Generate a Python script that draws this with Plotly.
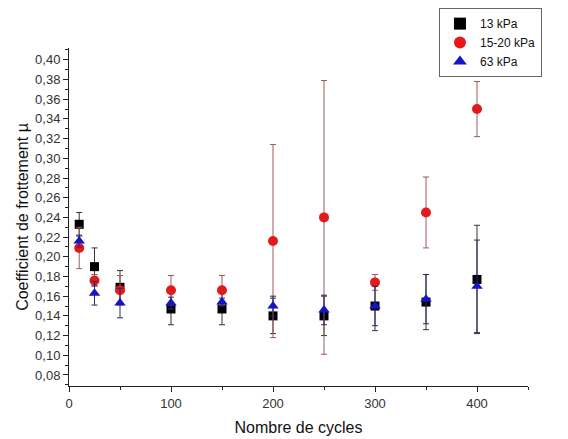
import plotly.graph_objects as go

cycles = [10, 25, 50, 100, 150, 200, 250, 300, 350, 400]

mu_13 = [0.233, 0.190, 0.169, 0.147, 0.147, 0.140, 0.140, 0.150, 0.154, 0.177]
err_13 = [0.012, 0.019, 0.017, 0.016, 0.016, 0.018, 0.020, 0.025, 0.028, 0.055]

mu_1520 = [0.209, 0.176, 0.166, 0.166, 0.166, 0.216, 0.240, 0.174, 0.245, 0.350]
err_1520 = [0.021, 0.006, 0.015, 0.015, 0.015, 0.098, 0.139, 0.008, 0.036, 0.028]

mu_63 = [0.216, 0.163, 0.153, 0.153, 0.154, 0.150, 0.146, 0.150, 0.157, 0.170]
err_63 = [0.006, 0.012, 0.015, 0.006, 0.004, 0.010, 0.015, 0.020, 0.025, 0.047]

names = ["13 kPa", "15-20 kPa", "63 kPa"]

fig = go.Figure()

fig.add_trace(go.Scatter(
    x=cycles, y=mu_13, mode="markers", name=names[0],
    marker=dict(symbol="square", size=9, color="#000000"),
    error_y=dict(type="data", array=err_13, visible=True, color="#333333", thickness=1, width=3),
))
fig.add_trace(go.Scatter(
    x=cycles, y=mu_1520, mode="markers", name=names[1],
    marker=dict(symbol="circle", size=10, color="#e31a1c"),
    error_y=dict(type="data", array=err_1520, visible=True, color="#a05a5a", thickness=1, width=3),
))
fig.add_trace(go.Scatter(
    x=cycles, y=mu_63, mode="markers", name=names[2],
    marker=dict(symbol="triangle-up", size=10, color="#1414c8"),
    error_y=dict(type="data", array=err_63, visible=True, color="#2a2a6a", thickness=1, width=3),
))

font_family = "Liberation Sans, Arial, sans-serif"

fig.update_layout(
    width=568, height=439,
    paper_bgcolor="white", plot_bgcolor="white",
    margin=dict(l=61, r=48, t=40, b=61, autoexpand=False),
    font=dict(family=font_family, size=13, color="#222222"),
    showlegend=True,
    separators=", ",
    legend=dict(
        x=0.806, y=1.118, xanchor="left", yanchor="top",
        bordercolor="#666666", borderwidth=1, bgcolor="white",
        font=dict(size=12, color="#111111"),
        tracegroupgap=0, itemsizing="constant",
    ),
    xaxis=dict(
        range=[0, 450], showgrid=False, zeroline=False,
        showline=True, linecolor="#222222", linewidth=1,
        ticks="outside", ticklen=5, tickcolor="#222222",
        tickvals=[0, 100, 200, 300, 400],
        minor=dict(tickvals=[50, 150, 250, 350, 450], ticks="outside", ticklen=3, tickcolor="#222222"),
        title=dict(text="Nombre de cycles", font=dict(size=16, color="#111111"), standoff=12),
        tickfont=dict(size=13, color="#333333"),
    ),
    yaxis=dict(
        range=[0.0688, 0.412], showgrid=False, zeroline=False,
        showline=True, linecolor="#222222", linewidth=1,
        ticks="outside", ticklen=5, tickcolor="#222222",
        tick0=0.08, dtick=0.02, tickformat=".2f",
        minor=dict(dtick=0.01, tick0=0.07, ticks="outside", ticklen=3, tickcolor="#222222"),
        title=dict(text="Coefficient de frottement µ", font=dict(size=16, color="#111111"), standoff=2),
        tickfont=dict(size=13, color="#333333"),
    ),
)

fig.write_html("out.html")
